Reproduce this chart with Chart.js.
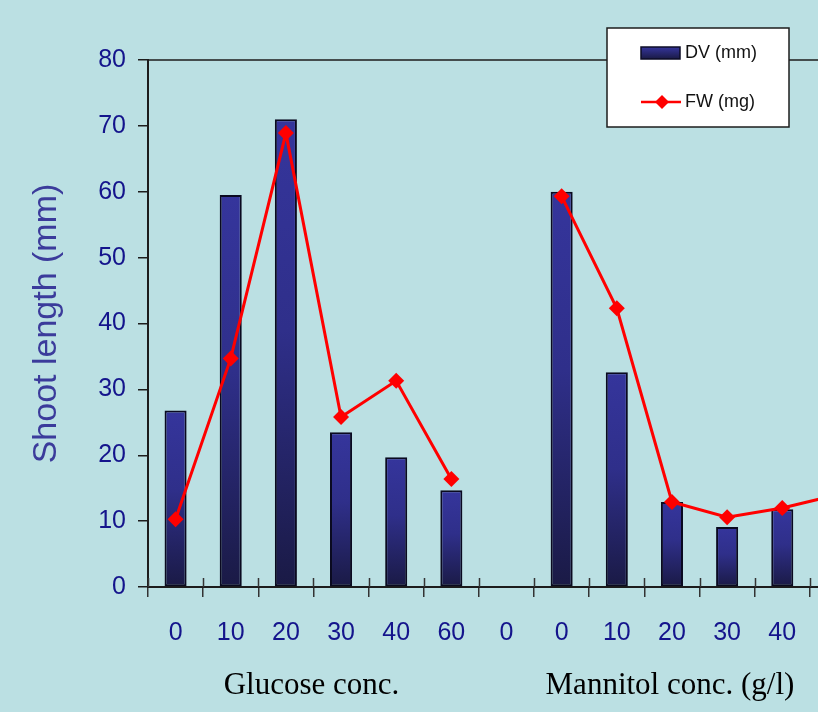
<!DOCTYPE html>
<html>
<head>
<meta charset="utf-8">
<script src="https://cdn.jsdelivr.net/npm/chart.js@4.4.1/dist/chart.umd.min.js"></script>
<style>
  html, body { margin: 0; padding: 0; background: #bbe0e3; overflow: hidden; width: 818px; height: 712px; }
  #wrap { width: 880px; height: 712px; }
</style>
</head>
<body>
<div id="wrap"><canvas id="chart" width="880" height="712"></canvas></div>
<script>
// values (last category is cut off at the right edge)
var categories = ['0', '10', '20', '30', '40', '60', '0', '0', '10', '20', '30', '40', '60'];
var dvValues = [26.8, 59.5, 71.0, 23.5, 19.7, 14.7, null, 60.0, 32.6, 12.9, 9.1, 11.8, null];
var fwValues = [10.3, 34.7, 68.9, 25.8, 31.3, 16.4, null, 59.3, 42.3, 12.9, 10.6, 12.0, 14.0];
var yMin = 0, yMax = 80, yStep = 10;
var groupTitles = ['Glucose conc.', 'Mannitol conc. (g/l)'];
var groupRanges = [[0, 5], [7, 11]];

var navy = '#14148c';
var axisCol = '#1c1c1c';

function barFill(ctx) {
  var chart = ctx.chart;
  var ys = chart.scales.y;
  var v = ctx.raw;
  if (!chart.chartArea || !ys || v == null) return '#30308f';
  var top = ys.getPixelForValue(v), bot = ys.getPixelForValue(0);
  var g = chart.ctx.createLinearGradient(0, top, 0, bot);
  g.addColorStop(0, '#35359c');
  g.addColorStop(0.45, '#2f2f8a');
  g.addColorStop(1, '#1a1a45');
  return g;
}

var extras = {
  id: 'extras',
  afterDraw: function(chart) {
    var c = chart.ctx, a = chart.chartArea, xs = chart.scales.x;
    c.save();
    // top frame line
    c.strokeStyle = axisCol;
    c.lineWidth = 1.5;
    c.beginPath();
    c.moveTo(a.left, a.top);
    c.lineTo(a.right, a.top);
    c.stroke();
    // x ticks crossing into the plot
    var n = categories.length;
    c.lineWidth = 1.5;
    c.strokeStyle = '#333333';
    for (var i = 0; i <= n; i++) {
      var x = Math.round(xs.left + i * xs.width / n) + 0.5;
      c.beginPath();
      c.moveTo(x, a.bottom - 9);
      c.lineTo(x, a.bottom);
      c.stroke();
    }
    // group titles
    c.fillStyle = '#000000';
    c.font = '31px "Liberation Serif", "Times New Roman", serif';
    c.textAlign = 'center';
    c.textBaseline = 'middle';
    for (var k = 0; k < groupTitles.length; k++) {
      var x0 = xs.getPixelForValue(groupRanges[k][0]);
      var x1 = xs.getPixelForValue(groupRanges[k][1]);
      c.fillText(groupTitles[k], (x0 + x1) / 2 - 2, 686);
    }
    // legend box
    var bx = 607, by = 28, bw = 182, bh = 99;
    c.fillStyle = '#ffffff';
    c.fillRect(bx, by, bw, bh);
    c.strokeStyle = axisCol;
    c.lineWidth = 1.5;
    c.strokeRect(bx, by, bw, bh);
    var g = c.createLinearGradient(0, 47, 0, 59);
    g.addColorStop(0, '#35359c');
    g.addColorStop(1, '#1a1a45');
    c.fillStyle = g;
    c.fillRect(641, 47, 39, 12);
    c.strokeStyle = '#0d0d26';
    c.lineWidth = 1.5;
    c.strokeRect(641, 47, 39, 12);
    c.strokeStyle = '#ff0000';
    c.lineWidth = 2.5;
    c.beginPath();
    c.moveTo(641, 102);
    c.lineTo(681, 102);
    c.stroke();
    c.fillStyle = '#ff0000';
    c.beginPath();
    c.moveTo(662, 95); c.lineTo(669, 102); c.lineTo(662, 109); c.lineTo(655, 102);
    c.closePath();
    c.fill();
    c.fillStyle = '#111111';
    c.font = '18px "Liberation Sans", Arial, sans-serif';
    c.textAlign = 'left';
    c.fillText(chart.data.datasets[0].label, 685, 53);
    c.fillText(chart.data.datasets[1].label, 685, 102);
    c.restore();
  }
};

var ctx = document.getElementById('chart').getContext('2d');
var chart = new Chart(ctx, {
  type: 'bar',
  data: {
    labels: categories,
    datasets: [{
      type: 'bar',
      label: 'DV (mm)',
      data: dvValues,
      backgroundColor: barFill,
      borderColor: '#0a0a20',
      borderWidth: 2,
      borderSkipped: false,
      barPercentage: 0.4,
      categoryPercentage: 1.0,
      order: 2
    }, {
      type: 'line',
      label: 'FW (mg)',
      data: fwValues,
      borderColor: '#ff0000',
      backgroundColor: '#ff0000',
      borderWidth: 3,
      pointStyle: 'rectRot',
      pointRadius: 8,
      pointBorderWidth: 0,
      spanGaps: false,
      tension: 0,
      order: 1
    }]
  },
  options: {
    responsive: false,
    animation: false,
    layout: { padding: { top: 60, right: 15, bottom: 0, left: 0 } },
    plugins: {
      legend: { display: false },
      tooltip: { enabled: false }
    },
    scales: {
      x: {
        type: 'category',
        offset: true,
        grid: { offset: true, drawOnChartArea: false, tickLength: 10, color: '#333333', lineWidth: 1.5 },
        border: { color: axisCol, width: 2 },
        ticks: {
          color: navy,
          padding: 21,
          maxRotation: 0,
          autoSkip: false,
          font: { family: '"Liberation Sans", Arial, sans-serif', size: 25 }
        },
        afterFit: function(s) { s.height = 125; }
      },
      y: {
        min: yMin,
        max: yMax,
        grid: { drawOnChartArea: false, tickLength: 10, color: axisCol, lineWidth: 1.5 },
        border: { color: axisCol, width: 2 },
        ticks: {
          stepSize: yStep,
          color: navy,
          padding: 12,
          font: { family: '"Liberation Sans", Arial, sans-serif', size: 25 }
        },
        title: {
          display: true,
          text: 'Shoot length (mm)',
          color: '#3b3b9b',
          padding: { top: 26, bottom: 0 },
          font: { family: '"Liberation Sans", Arial, sans-serif', size: 34 }
        },
        afterFit: function(s) { s.width = 148; }
      }
    }
  },
  plugins: [extras]
});
</script>
</body>
</html>
